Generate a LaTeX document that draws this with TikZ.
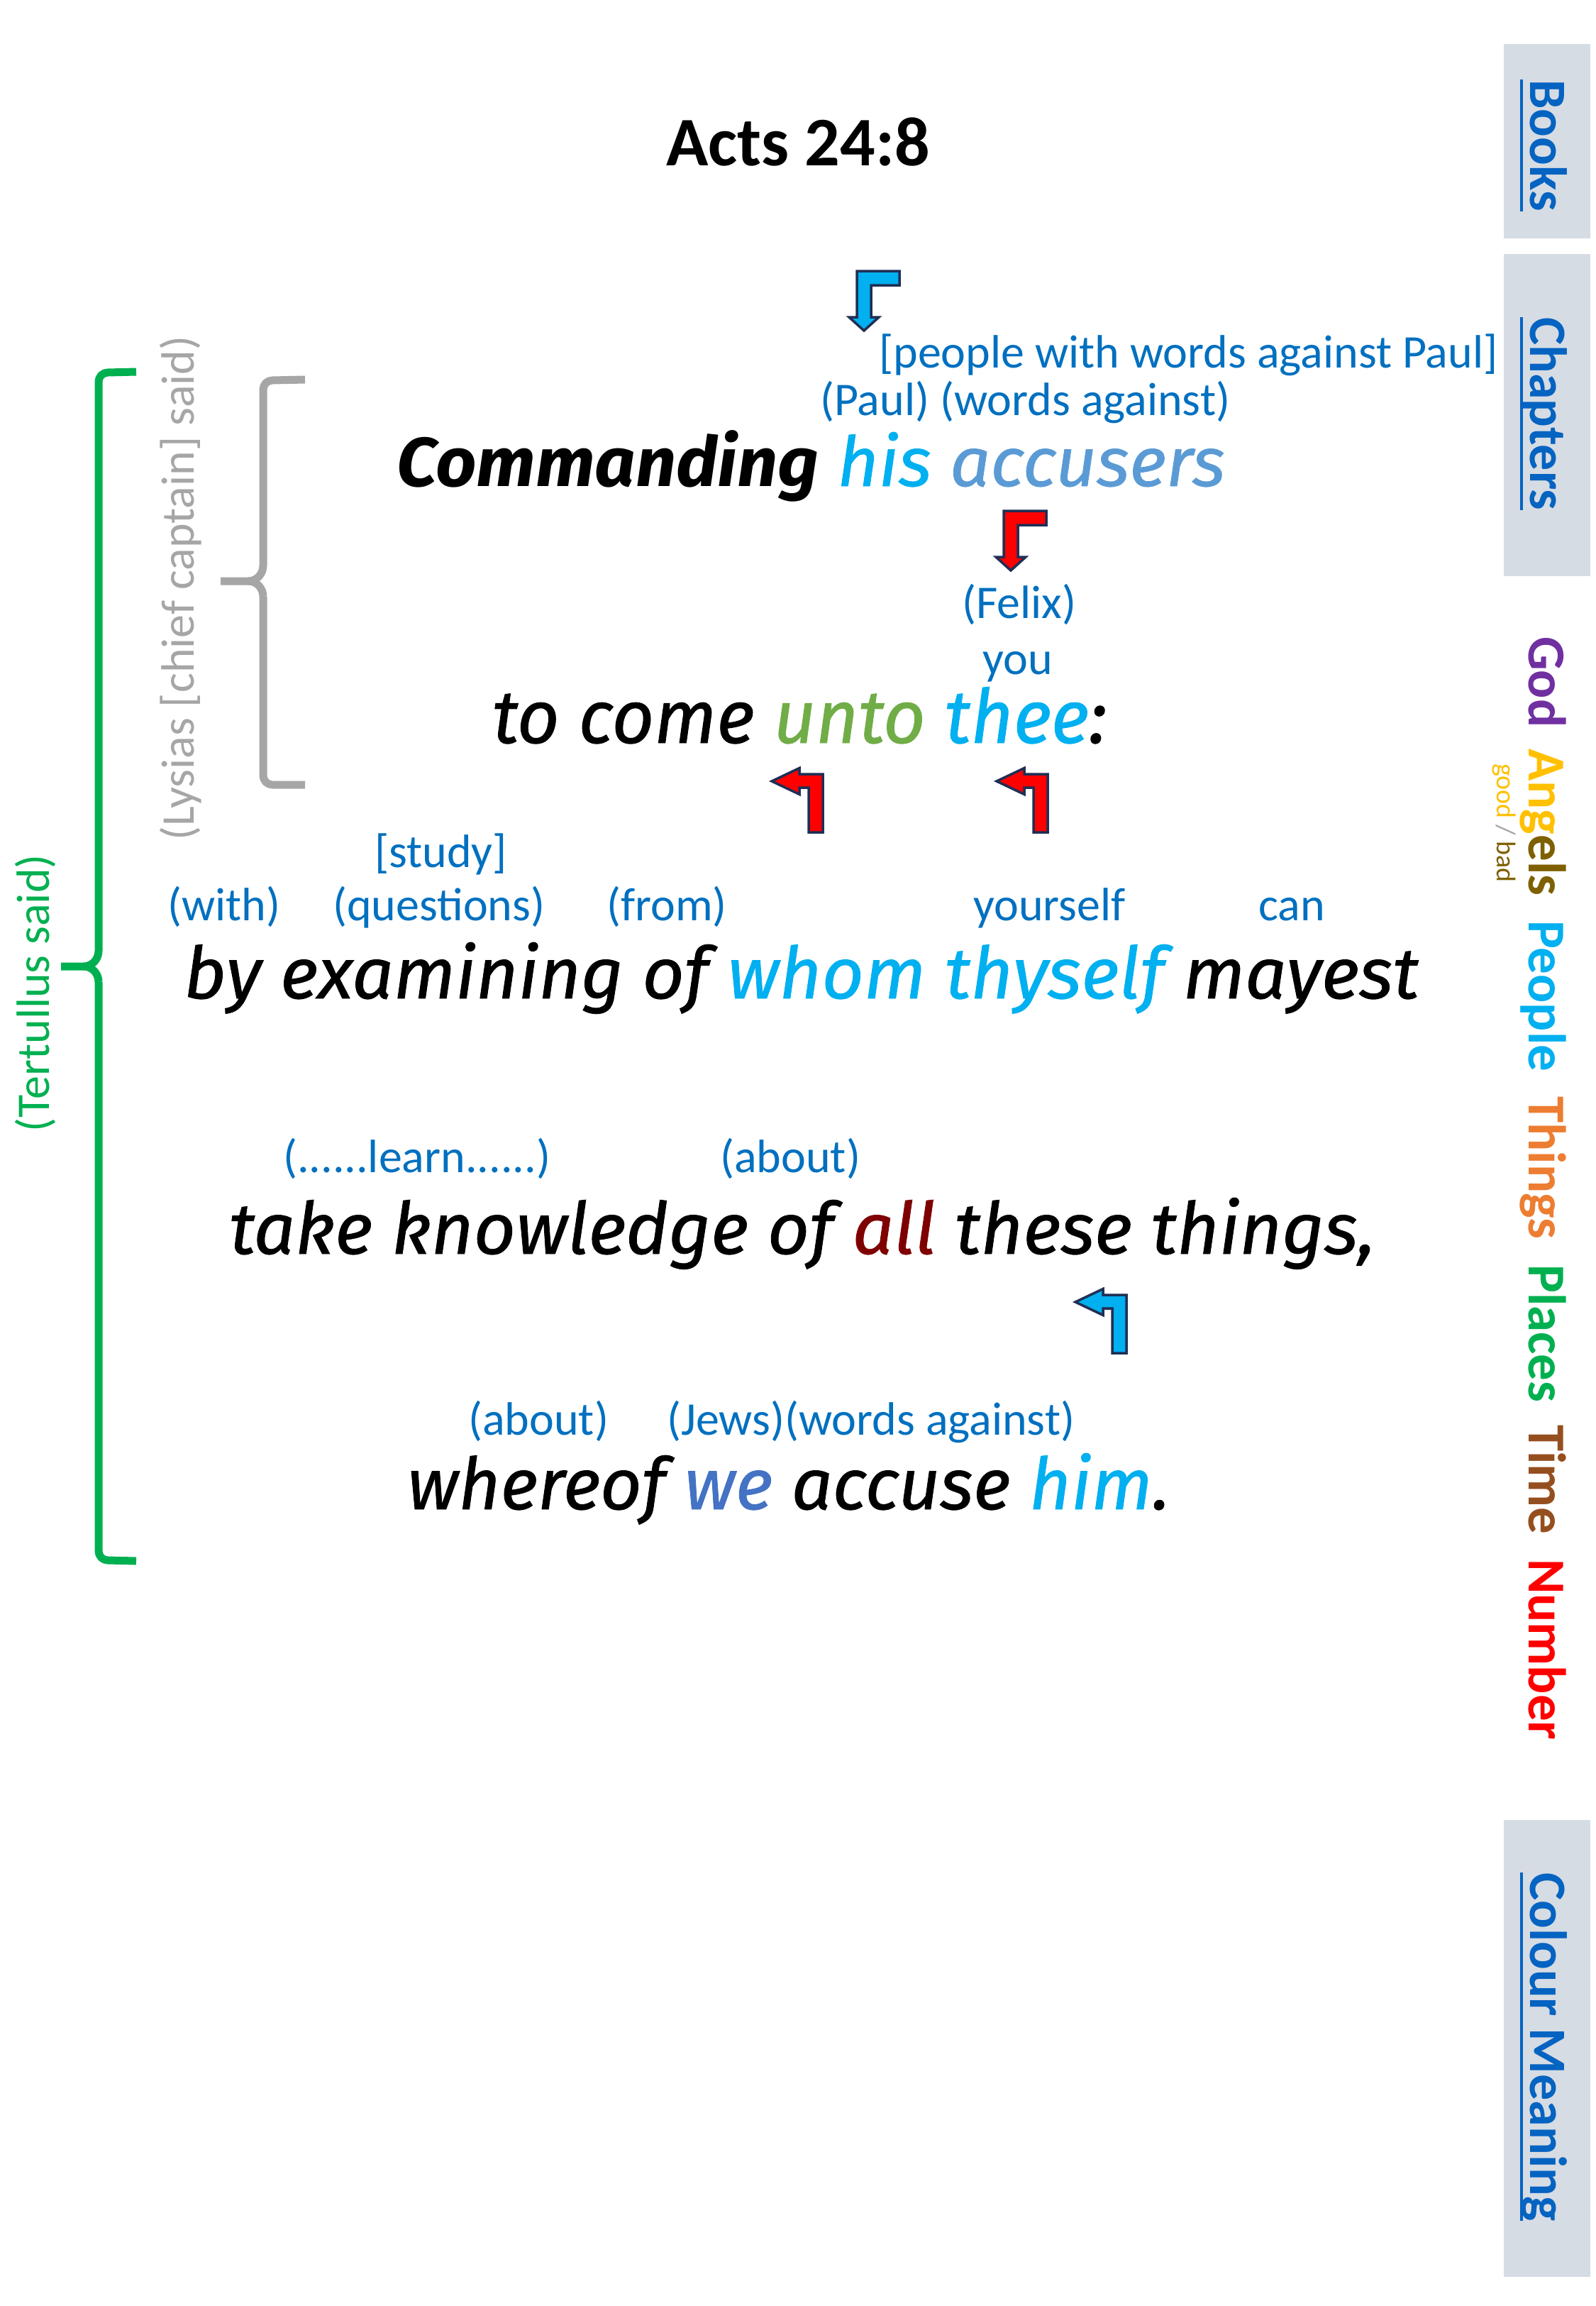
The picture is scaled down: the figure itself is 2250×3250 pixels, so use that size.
\documentclass[tikz,border=0pt]{standalone}
\usepackage{fontspec}
\usepackage{graphicx}
\setmainfont{Carlito}
\newfontfamily\versefont{Fira Sans}[ItalicFeatures={FakeBold=0.8}]
\definecolor{annblue}{HTML}{0070C0}
\definecolor{linkblue}{HTML}{0563C1}
\definecolor{tabgray}{HTML}{D6DCE4}
\definecolor{peoplec}{HTML}{00B0F0}
\definecolor{accc}{HTML}{5B9BD5}
\definecolor{placec}{HTML}{70AD47}
\definecolor{allc}{HTML}{7F0000}
\definecolor{wec}{HTML}{4472C4}
\definecolor{godc}{HTML}{7030A0}
\definecolor{angc}{HTML}{FFC000}
\definecolor{bangc}{HTML}{7F6000}
\definecolor{thingc}{HTML}{ED7D31}
\definecolor{placesc}{HTML}{00B050}
\definecolor{timec}{HTML}{954F1E}
\definecolor{numc}{HTML}{FF0000}
\definecolor{brkgreen}{HTML}{00B050}
\definecolor{brkgray}{HTML}{A6A6A6}
\definecolor{arrowline}{HTML}{1F2F55}
\definecolor{arrowred}{HTML}{FF0000}
\definecolor{arrowblue}{HTML}{00B0F0}
\newcommand\myul[1]{\setbox0\hbox{#1}\rlap{\rule[-14pt]{\wd0}{4pt}}\box0}
\newcommand\verseline[3]{\resizebox{#1pt}{#2pt}{\versefont\fontsize{100}{120}\selectfont\itshape #3}}
\tikzset{
  ann/.style={font=\fontsize{66}{72}\selectfont, text=annblue, inner sep=0pt, anchor=base west},
  verse/.style={inner sep=0pt, anchor=base west},
  tabtext/.style={font=\bfseries\fontsize{74}{80}\selectfont, text=linkblue, rotate=-90, anchor=base west, inner sep=0pt},
  legend/.style={font=\bfseries\fontsize{75}{80}\selectfont, rotate=-90, anchor=base west, inner sep=0pt},
  sidetext/.style={font=\fontsize{66}{72}\selectfont, rotate=90, anchor=center, inner sep=0pt},
  brk/.style={line width=11pt, line cap=butt, line join=round},
  arr/.style={draw=arrowline, line width=3.5pt, line join=miter},
  downbent/.pic={\filldraw[arr, fill=#1] (-10,0) -- (50,0) -- (50,20) -- (10,20) -- (10,65) -- (21,65) -- (0,84) -- (-21,65) -- (-10,65) -- cycle;},
  leftbent/.pic={\filldraw[arr, fill=#1] (0,0) -- (39,-18.5) -- (39,-10) -- (72,-10) -- (72,72) -- (52,72) -- (52,9) -- (39,9) -- (39,18.5) -- cycle;}
}
\begin{document}
\begin{tikzpicture}[x=1pt,y=-1pt]
\useasboundingbox (0,0) rectangle (2250,3250);
\fill[white] (0,0) rectangle (2250,3250);

% side tabs
\fill[tabgray] (2120,62) rectangle (2242,336);
\fill[tabgray] (2120,358) rectangle (2242,812);
\fill[tabgray] (2120,2565) rectangle (2242,3209);
\node[tabtext] (tbooks) at (2157,112) {\myul{Books}};
\node[tabtext] (tchap) at (2157,447) {\myul{Chapters}};
\node[tabtext] (tcol) at (2157,2639) {\myul{Colour Meaning}};

% legend
\node[legend, text=godc] (lgod) at (2155,897) {God};
\node[legend] (lang) at (2155,1055) {\textcolor{angc}{Ang}\textcolor{bangc}{els}};
\node[legend, text=peoplec] (lpeo) at (2155,1297) {People};
\node[legend, text=thingc] (lthi) at (2155,1545) {Things};
\node[legend, text=placesc] (lpla) at (2155,1782) {Places};
\node[legend, text=timec] (ltim) at (2155,2008) {Time};
\node[legend, text=numc] (lnum) at (2155,2197) {Number};
\node[font=\fontsize{38}{40}\selectfont, rotate=-90, anchor=base west, inner sep=0pt] (lgb) at (2110,1076)
  {\textcolor{angc}{good} \textcolor{brkgray}{/} \textcolor{bangc}{bad}};

% title
\node[font=\bfseries\fontsize{98}{110}\selectfont, anchor=base, inner sep=0pt] (title) at (1125,233) {Acts 24:8};

% brackets
\draw[brk, brkgreen] (192,524) -- (152,525) to[out=180,in=90] (139,538) -- (139,1340) to[out=-90,in=0] (118,1362) -- (86,1362);
\draw[brk, brkgreen] (139,1384) to[out=90,in=0] (118,1362);
\draw[brk, brkgreen] (139,1384) -- (139,2186) to[out=-90,in=180] (152,2199) -- (192,2200);
\draw[brk, brkgray] (430,535) -- (384,536) to[out=180,in=90] (371,549) -- (371,797) to[out=-90,in=0] (350,819) -- (311,819);
\draw[brk, brkgray] (371,841) to[out=90,in=0] (350,819);
\draw[brk, brkgray] (371,841) -- (371,1093) to[out=-90,in=180] (384,1106) -- (430,1106);
\node[sidetext, text=brkgreen] (tert) at (50,1400) {(Tertullus said)};
\node[sidetext, text=brkgray] (lys) at (255,829) {(Lysias [chief captain] said)};

% arrows
\pic at (1218,382) {downbent=arrowblue};
\pic at (1425,720) {downbent=arrowred};
\pic at (1088,1101) {leftbent=arrowred};
\pic at (1405,1101) {leftbent=arrowred};
\pic at (1516,1835) {leftbent=arrowblue};

% annotations
\node[ann] (a1) at (1239,518) {[people with words against Paul]};
\node[ann] (a2) at (1156,585) {(Paul) (words against)};
\node[ann] (a3) at (1356,871) {(Felix)};
\node[ann] (a4) at (1385,950) {you};
\node[ann] (a5) at (528,1222) {[study]};
\node[ann] (a6) at (236,1297) {(with)};
\node[ann] (a7) at (469,1297) {(questions)};
\node[ann] (a8) at (855,1297) {(from)};
\node[ann] (a9) at (1372,1297) {yourself};
\node[ann] (a10) at (1774,1297) {can};
\node[ann] (a11) at (399,1652) {(......learn......)};
\node[ann] (a12) at (1015,1652) {(about)};
\node[ann] (a13) at (660,2022) {(about)};
\node[ann] (a14) at (940,2022) {(Jews)(words against)};

% verse lines
\node[verse] (l1) at (559,685) {\verseline{1168}{79}{{\bfseries Commanding} \textcolor{peoplec}{his} \textcolor{accc}{accusers}}};
\node[verse] (l2) at (694,1047) {\verseline{866}{79}{to come \textcolor{placec}{unto} \textcolor{peoplec}{thee}:}};
\node[verse] (l3) at (259,1407) {\verseline{1741}{79}{by examining of \textcolor{peoplec}{whom thyself} mayest}};
\node[verse] (l4) at (323,1767) {\verseline{1616}{79}{take knowledge of \textcolor{allc}{all} these things,}};
\node[verse] (l5) at (574,2127) {\verseline{1075}{79}{whereof \textcolor{wec}{we} accuse \textcolor{peoplec}{him}.}};
\end{tikzpicture}
\end{document}
